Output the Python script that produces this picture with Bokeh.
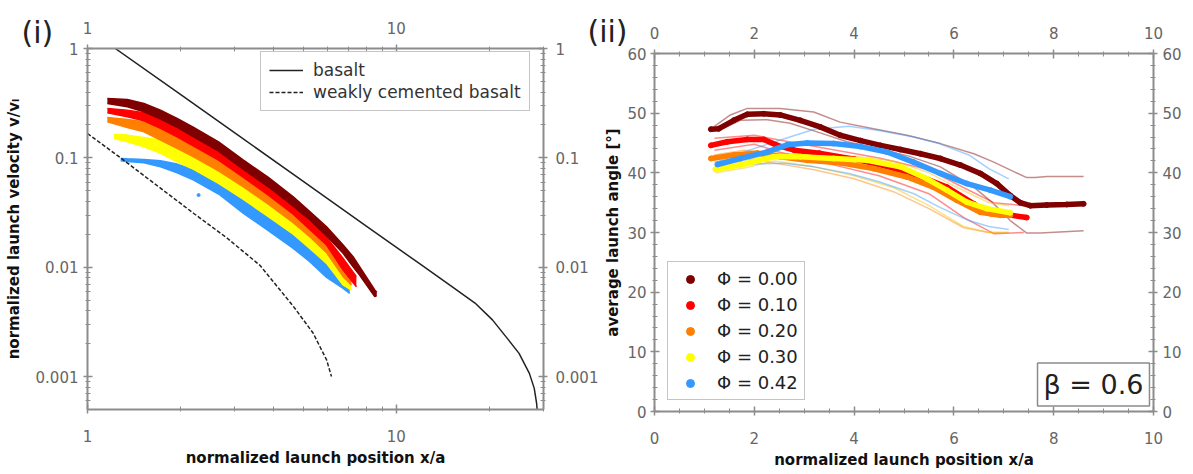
from bokeh.plotting import figure
from bokeh.models import (LogAxis, LinearAxis, FixedTicker, Legend, LegendItem,
                          Label, Range1d)
from bokeh.layouts import row, column
from bokeh.embed import file_html
from bokeh.resources import INLINE

# ---------------- data: panel (i) ----------------
phi_labels = ["Φ = 0.00", "Φ = 0.10", "Φ = 0.20", "Φ = 0.30", "Φ = 0.42"]
colors = ["#7f0000", "#ff0000", "#ff8000", "#ffff00", "#3399ff"]

v_x_000 = [1.16, 1.346, 1.523, 1.724, 1.951, 2.207, 2.658, 3.2, 3.853, 4.64, 5.249, 5.95, 6.73, 7.25, 7.61, 8.52, 8.65]
v_up_000 = [0.349, 0.342, 0.3145, 0.273, 0.2293, 0.1897, 0.1403, 0.0954, 0.0663, 0.0441, 0.0322, 0.02347,
            0.01595, 0.01248, 0.01011, 0.00619, 0.0059]
v_lo_000 = [0.3145, 0.293, 0.2638, 0.2261, 0.1897, 0.1559, 0.1153, 0.0784, 0.0544, 0.0362, 0.0270, 0.01928,
            0.01339, 0.01011, 0.00849, 0.00538, 0.0055]

v_x_010 = [1.16, 1.346, 1.523, 1.724, 1.951, 2.207, 2.658, 3.2, 3.853, 4.64, 5.249, 5.95, 6.73, 7.43]
v_up_010 = [0.2829, 0.2732, 0.2583, 0.2214, 0.1858, 0.1537, 0.1137, 0.0773, 0.0537, 0.0357, 0.0261, 0.01875, 0.01205, 0.0082]
v_lo_010 = [0.2583, 0.2375, 0.2183, 0.1858, 0.1559, 0.1281, 0.0954, 0.0663, 0.0457, 0.0306, 0.0222, 0.01595, 0.00943, 0.00664]

v_x_020 = [1.16, 1.346, 1.523, 1.724, 1.951, 2.207, 2.658, 3.2, 3.853, 4.64, 5.249, 5.95, 6.73, 7.16]
v_up_020 = [0.2342, 0.2245, 0.2137, 0.1858, 0.1559, 0.1281, 0.0954, 0.0663, 0.0457, 0.0306, 0.0222, 0.01595, 0.00943, 0.00764]
v_lo_020 = [0.2137, 0.1897, 0.1732, 0.1453, 0.1220, 0.1023, 0.0762, 0.0544, 0.0378, 0.0255, 0.0190, 0.01358, 0.0082, 0.00688]

v_x_030 = [1.219, 1.346, 1.523, 1.724, 1.951, 2.207, 2.658, 3.2, 3.853, 4.64, 5.249, 5.95, 6.73, 7.16]
v_up_030 = [0.1637, 0.1614, 0.1537, 0.1453, 0.1220, 0.1023, 0.0762, 0.0544, 0.0378, 0.0255, 0.0190, 0.01358, 0.0082, 0.00712]
v_lo_030 = [0.1505, 0.1403, 0.1264, 0.1098, 0.0921, 0.0784, 0.0584, 0.0417, 0.0290, 0.0201, 0.01487, 0.01085, 0.00688, 0.00619]

v_x_042 = [1.281, 1.346, 1.523, 1.724, 1.951, 2.207, 2.658, 3.2, 3.853, 4.64, 5.249, 5.95, 6.73, 7.07]
v_up_042 = [0.0988, 0.0981, 0.0967, 0.0941, 0.0877, 0.0784, 0.0605, 0.0417, 0.0290, 0.0201, 0.01487, 0.01085, 0.00764, 0.00688]
v_lo_042 = [0.0941, 0.0928, 0.0902, 0.0829, 0.0731, 0.0626, 0.0467, 0.0311, 0.0216, 0.01487, 0.01123, 0.00808, 0.00641, 0.00577]

blue_outlier_x = [2.29]
blue_outlier_y = [0.0457]

basalt_x = [1.23, 2, 3, 5, 8, 12, 15, 18, 20.5, 23, 25, 27, 28, 28.5, 28.6]
basalt_y = [1.0, 0.38, 0.169, 0.061, 0.0238, 0.0106, 0.0068, 0.0047, 0.0033,
            0.0022, 0.00163, 0.00107, 0.00078, 0.00057, 0.0005]

weak_x = [1.0, 1.28, 2.21, 2.83, 3.62, 4.64, 5.38, 5.95, 6.17]
weak_y = [0.167, 0.1, 0.031, 0.0185, 0.0104, 0.0044, 0.0025, 0.00142, 0.001]

# ---------------- data: panel (ii) ----------------
a_x_000 = [1.13, 1.29, 1.59, 1.86, 2.19, 2.52, 2.92, 3.32, 3.72, 4.13, 4.53, 4.93,
           5.33, 5.73, 6.13, 6.53, 6.86, 7.13, 7.33, 7.53, 7.86, 8.26, 8.6]
a_y_000 = [47.3, 47.4, 48.8, 49.8, 49.9, 49.7, 48.8, 47.7, 46.3, 45.4, 44.6, 43.9,
           43.2, 42.4, 41.3, 39.9, 38.2, 36.2, 35.0, 34.5, 34.6, 34.7, 34.8]
a_x_010 = [1.13, 1.46, 1.86, 2.19, 2.46, 2.8, 3.3, 4.0, 4.6, 5.2, 5.86, 6.4, 6.73, 7.06, 7.46]
a_y_010 = [44.6, 45.2, 45.6, 45.6, 44.6, 43.8, 43.3, 42.3, 41.2, 39.8, 37.6, 34.8, 33.2, 33.0, 32.5]
a_x_020 = [1.13, 1.59, 2.06, 2.52, 3.06, 3.72, 4.39, 5.06, 5.59, 6.06, 6.53, 6.93, 7.13]
a_y_020 = [42.4, 43.0, 43.3, 42.7, 42.1, 41.7, 40.7, 39.3, 37.6, 35.4, 33.4, 32.9, 32.9]
a_x_030 = [1.22, 1.72, 2.39, 2.92, 3.59, 4.26, 4.93, 5.46, 5.86, 6.26, 6.66, 7.13]
a_y_030 = [40.6, 41.3, 42.7, 42.7, 42.4, 42.1, 41.0, 39.0, 37.1, 35.1, 34.0, 33.3]
a_x_042 = [1.26, 1.72, 2.26, 2.66, 3.06, 3.59, 4.13, 4.66, 5.19, 5.73, 6.26, 6.73, 7.13]
a_y_042 = [41.4, 42.4, 43.5, 44.7, 45.0, 44.9, 44.4, 43.5, 41.8, 39.9, 38.2, 37.1, 36.0]

# spread (thin lines)
s_up_x_000 = [1.2, 1.52, 1.86, 2.52, 3.19, 3.72, 4.39, 5.06, 5.73, 6.4, 6.8, 7.2, 7.46, 7.63, 7.86, 8.6]
s_up_y_000 = [47.8, 49.7, 50.8, 50.8, 50.2, 48.5, 47.4, 46.3, 44.9, 43.2, 41.8, 40.2, 39.2, 39.2, 39.4, 39.4]
s_lo_x_000 = [1.26, 1.72, 2.26, 2.72, 3.32, 3.86, 4.5, 5.1, 5.73, 6.4, 6.8, 7.13, 7.46, 7.73, 8.6]
s_lo_y_000 = [47.0, 48.8, 48.9, 48.3, 46.7, 45.2, 44.0, 42.8, 41.0, 37.6, 34.8, 32.0, 29.9, 29.9, 30.3]

s_x_010 = [1.2, 2.0, 2.5, 3.5, 4.5, 5.5, 6.2, 6.8, 7.4]
s_up_y_010 = [45.8, 46.3, 45.5, 44.0, 42.5, 40.5, 37.5, 35.0, 34.5]
s_lo_y_010 = [43.8, 44.8, 43.5, 41.5, 39.5, 36.5, 32.5, 29.8, 30.0]

s_x_020 = [1.2, 1.8, 2.5, 3.2, 4.0, 4.8, 5.5, 6.2, 6.7, 7.1]
s_up_y_020 = [43.0, 43.8, 43.3, 42.8, 41.8, 40.0, 38.0, 35.0, 33.8, 33.5]
s_lo_y_020 = [41.8, 42.5, 41.5, 40.5, 39.0, 36.8, 34.0, 30.8, 30.0, 30.0]

s_x_030 = [1.22, 1.8, 2.4, 3.2, 4.0, 4.8, 5.5, 6.2, 6.7, 7.1]
s_up_y_030 = [41.2, 42.0, 43.3, 43.0, 42.8, 42.0, 40.0, 37.0, 35.0, 34.5]
s_lo_y_030 = [40.0, 40.8, 42.0, 41.0, 39.5, 37.5, 34.5, 31.0, 30.0, 30.0]

s_x_042 = [1.3, 1.9, 2.6, 3.2, 3.9, 4.5, 5.2, 5.7, 6.3, 6.7, 7.1]
s_up_y_042 = [42.0, 43.8, 45.7, 47.3, 47.8, 47.1, 46.0, 44.9, 43.0, 40.7, 39.0]
s_lo_y_042 = [40.8, 41.5, 41.6, 41.0, 39.9, 38.5, 36.5, 34.3, 32.0, 31.0, 30.5]

# tick configuration
log_x_ticks = [1, 10]
log_x_minor = [2, 3, 4, 5, 6, 7, 8, 9, 20, 30]
log_y_ticks = [0.001, 0.01, 0.1, 1]
log_y_minor = [0.0006, 0.0007, 0.0008, 0.0009,
               0.002, 0.003, 0.004, 0.005, 0.006, 0.007, 0.008, 0.009,
               0.02, 0.03, 0.04, 0.05, 0.06, 0.07, 0.08, 0.09,
               0.2, 0.3, 0.4, 0.5, 0.6, 0.7, 0.8, 0.9]
lin_x_ticks = [0, 2, 4, 6, 8, 10]
lin_x_minor = [i * 0.5 for i in range(21)]
lin_y_ticks = [0, 10, 20, 30, 40, 50, 60]
lin_y_minor = [i * 2 for i in range(31)]

FONT = "DejaVu Sans"
AXIS_COLOR = "#8c8c8c"
TICK_LABEL_COLOR = "#666666"


def style_axis(ax, standoff, label_standoff=5):
    ax.axis_line_color = AXIS_COLOR
    ax.axis_line_width = 2
    ax.major_tick_line_color = AXIS_COLOR
    ax.minor_tick_line_color = AXIS_COLOR
    ax.major_tick_line_width = 1.5
    ax.minor_tick_line_width = 1
    ax.major_tick_in = 5
    ax.major_tick_out = 4
    ax.minor_tick_in = 3
    ax.minor_tick_out = 2
    ax.major_label_text_font = FONT
    ax.major_label_text_font_size = "15px"
    ax.major_label_text_color = TICK_LABEL_COLOR
    ax.major_label_standoff = standoff
    ax.axis_label_text_font = FONT
    ax.axis_label_text_font_style = "bold"
    ax.axis_label_text_font_size = "15px"
    ax.axis_label_text_color = "#111111"
    ax.axis_label_standoff = label_standoff


def style_title(t, text, offset, standoff):
    t.text = text
    t.align = "left"
    t.offset = offset
    t.vertical_align = "bottom"
    t.standoff = standoff
    t.text_font = FONT
    t.text_font_size = "30px"
    t.text_font_style = "normal"
    t.text_color = "#222222"


H = 472

# ================= panel (i) =================
p1 = figure(width=604, height=H, x_axis_type="log", y_axis_type="log",
            x_range=Range1d(1, 30), y_range=Range1d(0.0005, 1),
            output_backend="svg", toolbar_location=None,
            min_border_left=87, min_border_right=61,
            min_border_top=48, min_border_bottom=H - 409)
p1.grid.visible = False
p1.outline_line_color = None
style_title(p1.title, "(i)", -66, -62)

ylab_over = {0.001: "0.001", 0.01: "0.01", 0.1: "0.1", 1: "1"}
xlab_over = {1: "1", 10: "10"}

xa = p1.xaxis[0]
xa.ticker = FixedTicker(ticks=log_x_ticks, minor_ticks=log_x_minor)
xa.major_label_overrides = xlab_over
xa.axis_label = "normalized launch position x/a"
style_axis(xa, 16, 4)

ya = p1.yaxis[0]
ya.ticker = FixedTicker(ticks=log_y_ticks, minor_ticks=log_y_minor)
ya.major_label_overrides = ylab_over
ya.axis_label = "normalized launch velocity v/vₗ"
style_axis(ya, 5, 10)

top1 = LogAxis(ticker=FixedTicker(ticks=log_x_ticks, minor_ticks=log_x_minor))
top1.major_label_overrides = xlab_over
style_axis(top1, 11)
p1.add_layout(top1, "above")

right1 = LogAxis(ticker=FixedTicker(ticks=log_y_ticks, minor_ticks=log_y_minor))
right1.major_label_overrides = ylab_over
style_axis(right1, 8)
p1.add_layout(right1, "right")

bands = [
    (v_x_042, v_up_042, v_lo_042, colors[4]),
    (v_x_030, v_up_030, v_lo_030, colors[3]),
    (v_x_020, v_up_020, v_lo_020, colors[2]),
    (v_x_010, v_up_010, v_lo_010, colors[1]),
    (v_x_000, v_up_000, v_lo_000, colors[0]),
]
for bx, bu, bl, c in bands:
    p1.varea(x=bx, y1=bl, y2=bu, fill_color=c)
    p1.line(bx, bu, line_color=c, line_width=1.5)
    p1.line(bx, bl, line_color=c, line_width=1.5)
p1.scatter(blue_outlier_x, blue_outlier_y, size=3, color=colors[4])

r_basalt = p1.line(basalt_x, basalt_y, line_color="#222222", line_width=1.5)
r_weak = p1.line(weak_x, weak_y, line_color="#222222", line_width=1.5, line_dash="4 2")

leg1 = Legend(items=[LegendItem(label="basalt", renderers=[r_basalt]),
                     LegendItem(label="weakly cemented basalt", renderers=[r_weak])],
              location=(173, 298))
leg1.label_text_font = FONT
leg1.label_text_font_size = "17px"
leg1.label_text_color = "#333333"
leg1.border_line_color = "#8c8c8c"
leg1.border_line_width = 1.5
leg1.padding = 8
leg1.spacing = 2
leg1.glyph_width = 34
leg1.glyph_height = 20
leg1.label_height = 20
leg1.label_standoff = 10
p1.add_layout(leg1)

# ================= panel (ii) =================
p2 = figure(width=619, height=H, x_range=Range1d(0, 10), y_range=Range1d(0, 60),
            output_backend="svg", toolbar_location=None,
            min_border_left=80, min_border_right=40,
            min_border_top=53, min_border_bottom=H - 411)
p2.border_fill_color = None
p2.grid.visible = False
p2.outline_line_color = None
style_title(p2.title, "(ii)", -67, -51)

xb = p2.xaxis[0]
xb.ticker = FixedTicker(ticks=lin_x_ticks, minor_ticks=lin_x_minor)
xb.axis_label = "normalized launch position x/a"
style_axis(xb, 16, 4)

yb = p2.yaxis[0]
yb.ticker = FixedTicker(ticks=lin_y_ticks, minor_ticks=lin_y_minor)
yb.axis_label = "average launch angle [°]"
style_axis(yb, 4, 2)

top2 = LinearAxis(ticker=FixedTicker(ticks=lin_x_ticks, minor_ticks=lin_x_minor))
style_axis(top2, 11)
p2.add_layout(top2, "above")

right2 = LinearAxis(ticker=FixedTicker(ticks=lin_y_ticks, minor_ticks=lin_y_minor))
style_axis(right2, 5)
p2.add_layout(right2, "right")

spreads = [
    (s_up_x_000, s_up_y_000, colors[0]), (s_lo_x_000, s_lo_y_000, colors[0]),
    (s_x_010, s_up_y_010, colors[1]), (s_x_010, s_lo_y_010, colors[1]),
    (s_x_020, s_up_y_020, colors[2]), (s_x_020, s_lo_y_020, colors[2]),
    (s_x_030, s_up_y_030, "#f0c000"), (s_x_030, s_lo_y_030, "#f0c000"),
    (s_x_042, s_up_y_042, colors[4]), (s_x_042, s_lo_y_042, colors[4]),
]
for sx, sy, c in spreads:
    p2.line(sx, sy, line_color=c, line_width=1.5, line_alpha=0.45)

series = [(a_x_000, a_y_000), (a_x_010, a_y_010), (a_x_020, a_y_020),
          (a_x_030, a_y_030), (a_x_042, a_y_042)]
items = []
for (sx, sy), c, lab in zip(series, colors, phi_labels):
    p2.line(sx, sy, line_color=c, line_width=5.5)
    r = p2.scatter(sx, sy, size=5, color=c)
    items.append(LegendItem(label=lab, renderers=[r]))

leg2 = Legend(items=items, location=(13, 11))
leg2.label_text_font = FONT
leg2.label_text_font_size = "18px"
leg2.label_text_color = "#222222"
leg2.border_line_color = "#8c8c8c"
leg2.border_line_width = 1.5
leg2.padding = 6
leg2.spacing = 5
leg2.glyph_width = 32
leg2.glyph_height = 20
leg2.label_height = 20
leg2.label_standoff = 11
p2.add_layout(leg2)

p2.add_layout(Label(x=439, y=27, x_units="screen", y_units="screen", text="β = 0.6",
                    text_font=FONT, text_font_size="27px", text_color="#222222",
                    text_align="center", text_baseline="middle",
                    border_line_color="#8c8c8c", border_line_width=1.5,
                    background_fill_color="white", padding=6))

c1 = column(p1)
c2 = column(p2)
c2.margin = (0, 0, 0, -30)
layout = row(c1, c2, spacing=0)
open("out.html", "w").write(file_html(layout, INLINE))
